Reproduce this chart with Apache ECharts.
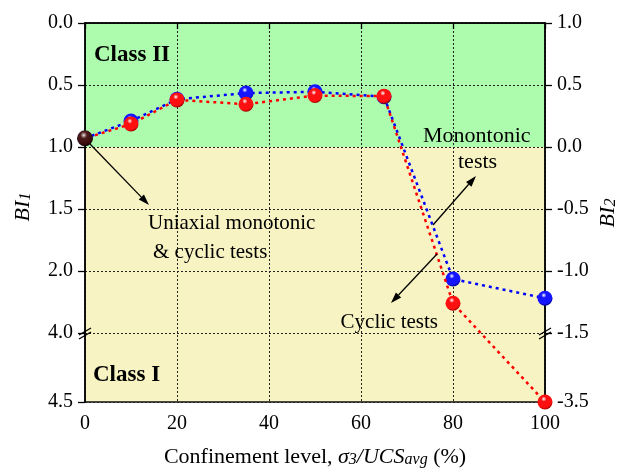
<!DOCTYPE html>
<html><head><meta charset="utf-8">
<script src="https://cdn.jsdelivr.net/npm/echarts@6/dist/echarts.min.js"></script>
<style>html,body{margin:0;padding:0;background:#fff}#c{width:624px;height:470px}</style>
</head><body><div id="c"></div>
<script>
// ---- data ----
const confinement = [0, 10, 20, 35, 50, 65, 80, 100];
const monotonicBI1 = [0.93, 0.79, 0.615, 0.565, 0.555, 0.595, 2.065, 2.22];
const cyclicBI1 = [0.93, 0.815, 0.62, 0.655, 0.585, 0.59, 2.26, 4.5];
const uniaxialX = [0];
const uniaxialBI1 = [0.93];
const xTicks = [0, 20, 40, 60, 80, 100];
const leftTicks = [0.0, 0.5, 1.0, 1.5, 2.0, 4.0, 4.5];
const rightTicks = [1.0, 0.5, 0.0, -0.5, -1.0, -1.5, -3.5];
const breakLow = 2.5, breakHigh = 4.0;   // BI1 axis break
const classBoundary = 1.0;

// ---- axis break mapping (lower segment drawn a bit taller, as in the original) ----
const LOWER_STRETCH = 69 / 62;
function toAxis(v) { return v <= breakLow ? v : breakLow + (v - breakHigh) * LOWER_STRETCH; }
function rightToAxis(b) { const v = 1 - b; return v <= breakLow ? v : toAxis(v); }
const yMax = toAxis(4.5);
const leftPos = leftTicks.map(toAxis);
const rightPos = rightTicks.map(rightToAxis);
function findLabel(pos, labels, val) {
  for (let i = 0; i < pos.length; i++) if (Math.abs(pos[i] - val) < 1e-6) return labels[i].toFixed(1);
  return '';
}

const FONT = '"Liberation Serif","Times New Roman",serif';
const GREEN = '#adfcad', YELLOW = '#f7f3c2';

function sphere(base, dark) {
  return { type: 'radial', x: 0.42, y: 0.3, r: 0.7,
    colorStops: [{offset: 0, color: '#ffffff'}, {offset: 0.25, color: base}, {offset: 0.8, color: base}, {offset: 1, color: dark}] };
}

const chart = echarts.init(document.getElementById('c'));

const axisLabelStyle = { color: '#000', fontSize: 20, fontFamily: FONT };

function arrow(x1, y1, x2, y2) {
  const a = Math.atan2(y2 - y1, x2 - x1), L = 11, W = 3.6;
  const bx = x2 - L * Math.cos(a), by = y2 - L * Math.sin(a);
  const px = -Math.sin(a) * W, py = Math.cos(a) * W;
  return [
    { type: 'line', shape: {x1, y1, x2: bx, y2: by}, style: {stroke: '#000', lineWidth: 1.3}, z: 50 },
    { type: 'polygon', shape: {points: [[x2, y2], [bx + px, by + py], [bx - px, by - py]]}, style: {fill: '#000'}, z: 50 }
  ];
}
function breakMark(x, y) {
  return [
    { type: 'line', shape: {x1: x - 6, y1: y + 2, x2: x + 6, y2: y - 5}, style: {stroke: '#000', lineWidth: 1.3}, z: 50 },
    { type: 'line', shape: {x1: x - 6, y1: y + 6, x2: x + 6, y2: y - 1}, style: {stroke: '#000', lineWidth: 1.3}, z: 50 }
  ];
}
function txt(x, y, text, size, opts) {
  return { type: 'text', x, y, z: 50,
    style: Object.assign({ text, fill: '#000', fontSize: size, fontFamily: FONT, textAlign: 'left', textVerticalAlign: 'middle' }, opts || {}) };
}
const subRich = {
  n: { fontSize: 22, fontFamily: FONT, fill: '#000', lineHeight: 26, verticalAlign: 'bottom' },
  i: { fontSize: 22, fontStyle: 'italic', fontFamily: FONT, fill: '#000', lineHeight: 26, verticalAlign: 'bottom' },
  s: { fontSize: 16, fontStyle: 'italic', fontFamily: FONT, fill: '#000', lineHeight: 16, verticalAlign: 'bottom' }
};

const option = {
  animation: false,
  grid: { left: 85, right: 79, top: 23, bottom: 68, show: true, borderColor: '#111', borderWidth: 1.5, backgroundColor: 'transparent' },
  xAxis: {
    type: 'value', min: 0, max: 100, interval: 20, z: 2,
    axisLine: { show: true, lineStyle: { color: '#000', width: 1.5 } },
    axisTick: { show: true, inside: false, length: 6, lineStyle: { color: '#000', width: 1.3 } },
    axisLabel: Object.assign({ margin: 12, formatter: v => xTicks.indexOf(v) >= 0 ? String(v) : '' }, axisLabelStyle),
    splitLine: { show: true, lineStyle: { color: '#222', type: [2, 2], width: 1 } }
  },
  yAxis: [{
    type: 'value', inverse: true, min: 0, max: yMax, position: 'left', z: 2,
    axisLine: { show: true, lineStyle: { color: '#000', width: 1.5 } },
    axisTick: { show: true, inside: false, length: 7, customValues: leftPos, lineStyle: { color: '#000', width: 1.3 } },
    axisLabel: Object.assign({ margin: 12, customValues: leftPos, formatter: v => findLabel(leftPos, leftTicks, v) }, axisLabelStyle),
    splitLine: { show: true, lineStyle: { color: '#222', type: [2, 2], width: 1 } }
  }, {
    type: 'value', inverse: true, min: 0, max: yMax, position: 'right', z: 2,
    axisLine: { show: true, lineStyle: { color: '#000', width: 1.5 } },
    axisTick: { show: true, inside: false, length: 7, customValues: rightPos, lineStyle: { color: '#000', width: 1.3 } },
    axisLabel: Object.assign({ margin: 12, customValues: rightPos, formatter: v => findLabel(rightPos, rightTicks, v) }, axisLabelStyle),
    splitLine: { show: false }
  }],
  series: [
    { type: 'line', z: -1, silent: true, data: [[0, 0], [100, yMax]], showSymbol: false, symbol: 'none',
      lineStyle: { opacity: 0 },
      markArea: { silent: true, z: -5, data: [
        [{ yAxis: 0, itemStyle: { color: GREEN } }, { yAxis: toAxis(classBoundary) }],
        [{ yAxis: toAxis(classBoundary), itemStyle: { color: YELLOW } }, { yAxis: yMax }]
      ] } },
    { name: 'Monotonic', type: 'line', z: 3,
      data: confinement.map((x, i) => [x, toAxis(monotonicBI1[i])]),
      symbol: 'circle', symbolSize: 15, showSymbol: true,
      lineStyle: { color: '#0000ff', width: 2.5, type: [3, 4] },
      itemStyle: { color: sphere('#1515ff', '#00008c'), borderWidth: 0 } },
    { name: 'Cyclic', type: 'line', z: 4,
      data: confinement.map((x, i) => [x, toAxis(cyclicBI1[i])]),
      symbol: 'circle', symbolSize: 15, showSymbol: true,
      lineStyle: { color: '#ff0000', width: 2.5, type: [3, 4], dashOffset: 3.5 },
      itemStyle: { color: sphere('#ff1010', '#a00000'), borderWidth: 0 } },
    { name: 'Uniaxial', type: 'scatter', z: 6,
      data: uniaxialX.map((x, i) => [x, toAxis(uniaxialBI1[i])]),
      symbol: 'circle', symbolSize: 16,
      itemStyle: { color: { type: 'radial', x: 0.42, y: 0.3, r: 0.7,
        colorStops: [{offset: 0, color: '#e0e0e0'}, {offset: 0.3, color: '#202020'}, {offset: 1, color: '#000'}] } } }
  ],
  graphic: [].concat(
    [txt(94, 55, 'Class II', 23, { fontWeight: 'bold' })],
    [txt(93, 375, 'Class I', 23, { fontWeight: 'bold' })],
    [txt(148, 223, 'Uniaxial monotonic', 21)],
    [txt(153, 252, '& cyclic tests', 21)],
    [txt(423, 136, 'Monontonic', 22)],
    [txt(458, 162, 'tests', 22)],
    [txt(438, 322, 'Cyclic tests', 21, { textAlign: 'right' })],
    arrow(90, 144, 149, 205),
    arrow(433, 225, 476, 176),
    arrow(437, 254, 391, 303),
    breakMark(85, 333),
    breakMark(545, 333),
    [{ type: 'text', x: 21, y: 207, rotation: Math.PI / 2, z: 50,
      style: { text: '{i|BI}{s|1}', textAlign: 'center', textVerticalAlign: 'middle', rich: subRich } },
     { type: 'text', x: 606, y: 213, rotation: Math.PI / 2, z: 50,
      style: { text: '{i|BI}{s|2}', textAlign: 'center', textVerticalAlign: 'middle', rich: subRich } },
     { type: 'text', x: 315, y: 455, z: 50,
      style: { text: '{n|Confinement level, }{i|σ}{s|3}{i|/UCS}{s|avg}{n| (%)}', textAlign: 'center', textVerticalAlign: 'middle', rich: subRich } }]
  )
};
chart.setOption(option);
</script></body></html>
